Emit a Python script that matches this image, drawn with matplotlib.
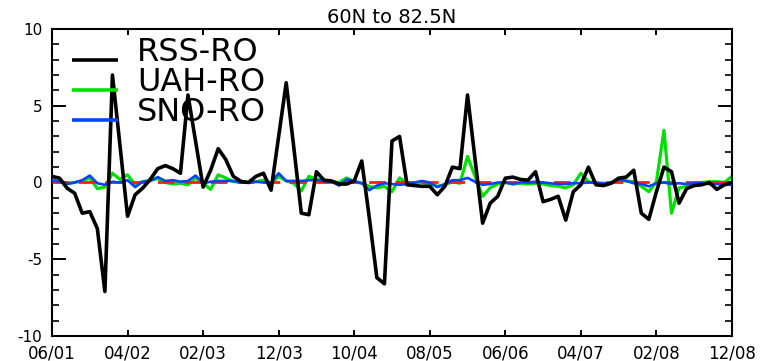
"""RSS / UAH / SNO minus RO anomaly differences, 60N to 82.5N."""
import numpy as np
import matplotlib

matplotlib.use("Agg")
import matplotlib.pyplot as plt  # noqa: E402
from matplotlib.ticker import MultipleLocator  # noqa: E402

# monthly series, 06/2001 .. 12/2008
RSS_RO = [0.4, 0.28, -0.37, -0.7, -2.0, -1.9, -3.0, -7.1, 7.0, 2.4,
          -2.2, -0.8, -0.37, 0.2, 0.9, 1.1, 0.9, 0.6, 5.7, 2.7,
          -0.3, 0.8, 2.2, 1.5, 0.4, 0.07, 0.0, 0.4, 0.6, -0.5,
          3.0, 6.5, 2.3, -2.0, -2.1, 0.7, 0.15, 0.1, -0.1, -0.1,
          0.1, 1.4, -2.3, -6.2, -6.6, 2.7, 3.0, -0.15, -0.2, -0.25,
          -0.25, -0.8, -0.25, 1.0, 0.9, 5.7, 1.5, -2.65, -1.35, -0.9,
          0.28, 0.35, 0.2, 0.15, 0.7, -1.25, -1.1, -0.9, -2.45, -0.6,
          -0.15, 1.0, -0.15, -0.2, -0.05, 0.28, 0.35, 0.8, -2.0, -2.4,
          -0.6, 1.0, 0.7, -1.35, -0.4, -0.2, -0.15, 0.0, -0.45, -0.15,
          0.0]
UAH_RO = [0.15, 0.05, -0.05, 0.0, 0.1, 0.3, -0.4, -0.3, 0.6, 0.2,
          0.5, -0.15, 0.05, 0.15, 0.25, 0.0, -0.1, -0.05, -0.15, 0.3,
          -0.05, -0.45, 0.5, 0.3, 0.05, 0.05, 0.0, 0.05, 0.15, -0.05,
          0.4, 0.1, -0.05, -0.55, 0.4, 0.2, 0.15, 0.05, 0.0, 0.3,
          0.05, -0.05, -0.25, -0.35, -0.25, -0.6, 0.3, -0.05, 0.0, 0.0,
          -0.1, -0.25, -0.15, 0.05, -0.05, 1.7, 0.4, -0.9, -0.35, -0.1,
          0.0, -0.1, -0.05, -0.1, -0.05, -0.1, -0.2, -0.25, -0.35, -0.15,
          0.6, 0.05, -0.05, -0.15, -0.05, 0.15, 0.1, 0.05, -0.25, -0.6,
          0.05, 3.4, -2.0, -0.35, -0.25, -0.05, 0.0, 0.05, 0.05, 0.0,
          0.4]
SNO_RO = [0.15, 0.05, -0.1, 0.0, 0.15, 0.45, -0.05, -0.15, 0.05, 0.0,
          0.15, -0.3, 0.05, 0.1, 0.35, 0.1, 0.15, 0.05, 0.1, 0.45,
          -0.05, 0.05, 0.1, 0.1, 0.1, 0.0, 0.0, 0.05, 0.0, 0.0,
          0.6, 0.1, 0.1, 0.1, 0.15, 0.15, 0.1, 0.05, -0.2, 0.2,
          0.1, -0.05, -0.5, -0.2, -0.05, -0.1, -0.15, -0.1, 0.0, 0.1,
          0.0, -0.3, -0.1, 0.15, 0.15, 0.3, 0.05, -0.15, -0.1, 0.0,
          0.0, -0.1, 0.0, 0.0, 0.05, 0.0, -0.05, -0.1, -0.1, -0.05,
          -0.05, 0.0, 0.0, -0.05, 0.0, 0.2, 0.1, -0.05, -0.1, -0.25,
          -0.05, 0.0, -0.1, -0.05, -0.1, -0.05, -0.05, -0.1, -0.1, -0.15,
          -0.15]
X_TICK_LABELS = ["06/01", "04/02", "02/03", "12/03", "10/04",
                 "08/05", "06/06", "04/07", "02/08", "12/08"]
Y_TICKS = [-10, -5, 0, 5, 10]
Y_TICK_LABELS = ["-10", "-5", "0", "5", "10"]
SERIES = [("RSS-RO", "black"), ("UAH-RO", "#00e000"), ("SNO-RO", "#0044ff")]

plt.rcParams["font.family"] = ["DejaVu Sans"]
plt.rcParams["axes.unicode_minus"] = False

months = np.arange(len(RSS_RO))

fig = plt.figure(figsize=(7.82, 3.61), dpi=100)
ax = fig.add_axes([0.0665, 0.0693, 0.8695, 0.8504])

ax.plot(months, UAH_RO, color="#00e000", lw=2.3, zorder=2)
ax.plot([months[0], months[-1]], [0, 0], color="#ff2000", lw=2.0,
        dashes=(6, 3.5), zorder=3)
ax.plot(months, SNO_RO, color="#0044ff", lw=1.9, zorder=4)
ax.plot(months, RSS_RO, color="black", lw=2.6, zorder=5)

ax.set_xlim(0, 90)
ax.set_ylim(-10, 10)
ax.set_xticks(np.arange(0, 91, 10), labels=X_TICK_LABELS)
ax.set_yticks(Y_TICKS, labels=Y_TICK_LABELS)
ax.yaxis.set_minor_locator(MultipleLocator(1))
ax.tick_params(axis="x", which="major", direction="in", length=4, width=1.4,
               top=True, labelsize=12, pad=6)
ax.tick_params(axis="y", which="major", direction="in", length=10, width=1.4,
               right=True, labelsize=11, pad=7)
ax.tick_params(axis="y", which="minor", direction="in", length=5, width=1.2,
               right=True)
for sp in ax.spines.values():
    sp.set_linewidth(1.5)

ax.set_title("60N to 82.5N", fontsize=14, pad=4)

# IDL-style legend: short line with label to its right
for k, (name, col) in enumerate(SERIES):
    y = 0.9 - k * 0.098
    ax.plot([0.03, 0.097], [y, y], color=col, lw=2.6, transform=ax.transAxes,
            zorder=6, solid_capstyle="butt")
    ax.text(0.125, y - 0.005, name, fontsize=23, transform=ax.transAxes,
            va="baseline", ha="left", zorder=7)

fig.savefig("out.png", dpi=100)
